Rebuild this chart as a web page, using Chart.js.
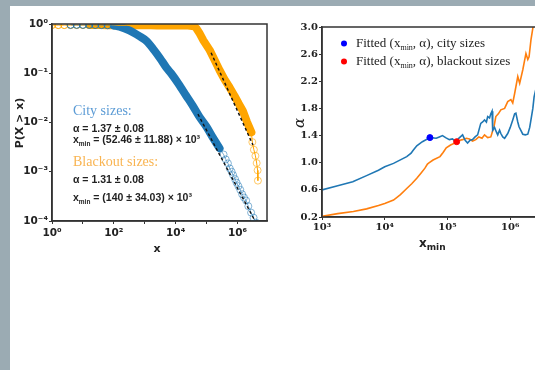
<!DOCTYPE html>
<html>
<head>
<meta charset="utf-8">
<script src="https://cdn.jsdelivr.net/npm/chart.js@4.4.1/dist/chart.umd.min.js"></script>
<style>
html, body { margin: 0; padding: 0; width: 535px; height: 370px; overflow: hidden; background: #9babb3; }
#sheet { position: absolute; left: 10px; top: 6px; width: 525px; height: 364px; background: #fff; }
#ccdf { position: absolute; left: 0; top: 0; }
#alpha { position: absolute; left: 280px; top: 0; }
</style>
</head>
<body>
<div id="sheet"></div>
<canvas id="ccdf" width="280" height="265"></canvas>
<canvas id="alpha" width="320" height="265"></canvas>
<script>
// CCDF of city sizes
const cityX = [4, 6.3, 10, 16, 25, 40, 63, 100, 155, 316, 690, 1150, 2000, 3160, 5000, 7080, 12600, 21900, 35500, 58900, 98000, 158000, 263000,
    355000, 417000, 490000, 562000, 646000, 724000, 832000, 933000, 1070000, 1230000, 1413000, 1622000, 1905000, 2239000, 2754000, 3311000, 3981000];
const cityP = [0.96, 0.96, 0.96, 0.96, 0.955, 0.95, 0.945, 0.93, 0.88, 0.74, 0.56, 0.45, 0.295, 0.2, 0.13, 0.1, 0.06, 0.035, 0.022, 0.013, 0.0083, 0.005, 0.003,
    0.00224, 0.00178, 0.00148, 0.00117, 0.001, 0.00085, 0.00071, 0.0006, 0.00051, 0.00043, 0.00035, 0.0003, 0.00026, 0.0002, 0.000148, 0.000117, 0.000093];

// CCDF of blackout sizes
const blackoutX = [1, 1.6, 2.5, 4, 6.3, 10, 16, 25, 40, 63, 100, 160, 250, 400, 630, 1000, 1600, 2500, 4000, 6300, 10000, 16000, 25000, 40000,
    47900, 58900, 79400, 126000, 178000, 263000, 380000, 550000, 794000, 1100000, 1480000, 2000000, 2820000,
    3020000, 3390000, 3800000, 4170000, 4470000, 4570000];
const blackoutP = [0.95, 0.95, 0.95, 0.95, 0.95, 0.95, 0.95, 0.95, 0.95, 0.94, 0.94, 0.94, 0.94, 0.94, 0.94, 0.94, 0.94, 0.93, 0.93, 0.93, 0.93, 0.93, 0.93, 0.9,
    0.8, 0.65, 0.46, 0.295, 0.19, 0.115, 0.075, 0.052, 0.035, 0.024, 0.0174, 0.0105, 0.0063,
    0.004, 0.0028, 0.0021, 0.0015, 0.00107, 0.00066];

// fitted power laws (dashed)
const cityFitX = [52460, 4470000];
const cityFitP = [0.0148, 0.00008];
const blackoutFitX = [140000, 3160000];
const blackoutFitP = [0.26, 0.0035];

// alpha as a function of xmin
const cityXmin = [1000, 1778, 3090, 5130, 7940, 10000, 13800, 22400, 26300, 28200, 32400, 39800, 52500, 66100, 74100, 83200, 93300,
    107000, 120000, 135000, 151000, 174000, 191000, 209000, 229000, 251000, 275000, 302000, 339000, 363000, 389000, 417000,
    437000, 468000, 490000, 513000, 525000, 562000, 603000, 631000, 676000, 708000, 759000, 813000, 912000, 1000000,
    1096000, 1175000, 1230000, 1318000, 1380000, 1585000, 1738000, 1905000, 2042000, 2138000, 2291000, 2399000, 2818000];
const cityAlpha = [0.60, 0.66, 0.72, 0.81, 0.89, 0.94, 0.99, 1.09, 1.14, 1.18, 1.25, 1.31, 1.37, 1.36, 1.38, 1.40, 1.37,
    1.34, 1.35, 1.31, 1.36, 1.41, 1.33, 1.29, 1.33, 1.34, 1.38, 1.41, 1.58, 1.60, 1.63, 1.60,
    1.68, 1.66, 1.72, 1.76, 1.48, 1.52, 1.45, 1.41, 1.48, 1.43, 1.38, 1.36, 1.43, 1.52,
    1.63, 1.72, 1.73, 1.60, 1.53, 1.42, 1.41, 1.42, 1.52, 1.63, 1.80, 1.97, 2.25];

const blackoutXmin = [1000, 1778, 3162, 5130, 7943, 10000, 13800, 17780, 22390, 26900, 32400, 38000, 43700, 47900, 51300, 58900,
    75900, 85100, 95500, 112000, 138000, 158000, 174000, 200000, 224000, 251000, 282000, 316000, 355000, 389000, 437000,
    490000, 550000, 589000, 646000, 708000, 813000, 912000, 1023000, 1096000, 1175000, 1318000, 1413000, 1585000,
    1778000, 1905000, 1995000, 2138000, 2399000];
const blackoutAlpha = [0.21, 0.25, 0.28, 0.32, 0.37, 0.40, 0.45, 0.53, 0.62, 0.69, 0.77, 0.85, 0.92, 0.98, 1.00, 1.04,
    1.09, 1.15, 1.22, 1.26, 1.30, 1.33, 1.34, 1.36, 1.35, 1.32, 1.34, 1.38, 1.36, 1.41, 1.37,
    1.38, 1.53, 1.68, 1.72, 1.78, 1.80, 1.90, 1.93, 1.88, 2.02, 2.27, 2.17, 2.37,
    2.61, 2.52, 2.56, 2.81, 3.10];

const fittedCity = { xmin: 52460, alpha: 1.37 };
const fittedBlackout = { xmin: 140000, alpha: 1.31 };

// tick values and labels
const ccdfXTicks = [1, 10, 100, 1000, 10000, 100000, 1000000];
const ccdfXLabels = ['10⁰', '', '10²', '', '10⁴', '', '10⁶'];
const ccdfYTicks = [0.0001, 0.001, 0.01, 0.1, 1];
const ccdfYLabels = ['10⁻⁴', '10⁻³', '10⁻²', '10⁻¹', '10⁰'];
const alphaXTicks = [1000, 10000, 100000, 1000000, 10000000];
const alphaXLabels = ['10³', '10⁴', '10⁵', '10⁶', '10⁷'];
const alphaYTicks = [0.2, 0.6, 1.0, 1.4, 1.8, 2.2, 2.6, 3.0];
const alphaYLabels = ['0.2', '0.6', '1.0', '1.4', '1.8', '2.2', '2.6', '3.0'];

const BLUE = '#1f77b4';
const ORANGE = '#ffa500';

function pts(xs, ys) {
    return xs.map((x, i) => ({ x: x, y: ys[i] }));
}

// box round the plot area, like matplotlib
const frame = {
    id: 'frame',
    afterDraw(chart) {
        const { ctx, chartArea: a } = chart;
        ctx.save();
        ctx.strokeStyle = '#333';
        ctx.lineWidth = 1.5;
        ctx.strokeRect(a.left, a.top, a.right - a.left, a.bottom - a.top);
        ctx.restore();
    }
};

// text with a "min" subscript
function subText(ctx, x, y, base, sub, rest, font, subFont) {
    ctx.font = font;
    ctx.fillText(base, x, y);
    x += ctx.measureText(base).width;
    ctx.font = subFont;
    ctx.fillText(sub, x, y + 3);
    x += ctx.measureText(sub).width;
    ctx.font = font;
    ctx.fillText(rest, x, y);
    return x + ctx.measureText(rest).width;
}

const ccdfNotes = {
    id: 'ccdfNotes',
    afterDraw(chart) {
        const ctx = chart.ctx;
        ctx.save();
        ctx.textAlign = 'left';
        ctx.textBaseline = 'alphabetic';
        const big = '14px "Liberation Serif"';
        const small = 'bold 10.5px "Liberation Sans"';
        const tiny = 'bold 6.5px "Liberation Sans"';

        ctx.fillStyle = '#5b9bd5';
        ctx.font = big;
        ctx.fillText('City sizes:', 73, 115);
        ctx.fillStyle = '#222';
        ctx.font = small;
        ctx.fillText('α = 1.37 ± 0.08', 73, 132);
        subText(ctx, 73, 143, 'x', 'min', ' = (52.46 ± 11.88) × 10³', small, tiny);

        ctx.fillStyle = '#f9b451';
        ctx.font = big;
        ctx.fillText('Blackout sizes:', 73, 166);
        ctx.fillStyle = '#222';
        ctx.font = small;
        ctx.fillText('α = 1.31 ± 0.08', 73, 183);
        subText(ctx, 73, 201, 'x', 'min', ' = (140 ± 34.03) × 10³', small, tiny);

        // axis titles
        ctx.font = 'bold 11px "DejaVu Sans"';
        ctx.textAlign = 'center';
        ctx.fillText('x', 157, 252);
        ctx.translate(20, 123);
        ctx.rotate(-Math.PI / 2);
        ctx.textBaseline = 'middle';
        ctx.fillText('P(X > x)', 0, 0);
        ctx.restore();
    }
};

const alphaNotes = {
    id: 'alphaNotes',
    afterDraw(chart) {
        const ctx = chart.ctx;
        ctx.save();
        const rows = [
            { color: '#0000ff', text: ', α), city sizes', y: 47 },
            { color: '#ff0000', text: ', α), blackout sizes', y: 65 }
        ];
        rows.forEach(r => {
            ctx.fillStyle = r.color;
            ctx.beginPath();
            ctx.arc(64, r.y - 3.5, 3, 0, Math.PI * 2);
            ctx.fill();
            ctx.fillStyle = '#222';
            ctx.textAlign = 'left';
            ctx.textBaseline = 'alphabetic';
            subText(ctx, 76, r.y, 'Fitted (x', 'min', r.text, '13px "Liberation Serif"', '8px "Liberation Serif"');
        });

        // axis titles
        ctx.fillStyle = '#222';
        subText(ctx, 139, 247, 'x', 'min', '', 'bold 12px "DejaVu Sans"', 'bold 9px "DejaVu Sans"');
        ctx.translate(20, 123);
        ctx.rotate(-Math.PI / 2);
        ctx.textAlign = 'center';
        ctx.textBaseline = 'middle';
        ctx.font = 'italic 15px "DejaVu Serif"';
        ctx.fillText('α', 0, 0);
        ctx.restore();
    }
};

// circles hidden where the dense band already covers them
const inCityBand = x => x >= 100 && x <= 300000;
const inBlackoutBand = x => x >= 16 && x <= 2820000;

const ccdfChart = new Chart(document.getElementById('ccdf'), {
    type: 'scatter',
    data: {
        datasets: [
            {
                data: pts(cityFitX, cityFitP),
                showLine: true,
                borderColor: '#111',
                borderWidth: 1.4,
                borderDash: [3, 2.5],
                pointRadius: 0
            },
            {
                data: pts(blackoutFitX, blackoutFitP),
                showLine: true,
                borderColor: '#111',
                borderWidth: 1.4,
                borderDash: [3, 2.5],
                pointRadius: 0
            },
            {
                data: pts(cityX, cityP),
                showLine: true,
                borderColor: 'rgba(31,119,180,0.6)',
                borderWidth: 1,
                pointRadius: c => (c.raw && inCityBand(c.raw.x)) ? 0 : 3.5,
                pointBorderWidth: 1,
                pointBackgroundColor: 'rgba(0,0,0,0)',
                pointBorderColor: c => (c.raw && c.raw.x > 300000) ? 'rgba(31,119,180,0.55)' : BLUE
            },
            {
                data: pts(blackoutX, blackoutP),
                showLine: true,
                borderColor: ORANGE,
                borderWidth: 1,
                pointRadius: c => (c.raw && inBlackoutBand(c.raw.x)) ? 0 : 3.5,
                pointBorderWidth: 1,
                pointBackgroundColor: 'rgba(0,0,0,0)',
                pointBorderColor: c => (c.raw && c.raw.x > 2900000) ? 'rgba(255,165,0,0.6)' : ORANGE
            },
            // dense part of the samples shows as a solid band
            {
                data: pts(cityX, cityP).filter(p => inCityBand(p.x)),
                showLine: true,
                borderColor: BLUE,
                borderWidth: 8,
                borderCapStyle: 'round',
                borderJoinStyle: 'round',
                tension: 0.3,
                pointRadius: 0
            },
            {
                data: pts(blackoutX, blackoutP).filter(p => inBlackoutBand(p.x)),
                showLine: true,
                borderColor: ORANGE,
                borderWidth: 8,
                borderCapStyle: 'round',
                borderJoinStyle: 'round',
                pointRadius: 0
            }
        ]
    },
    options: {
        responsive: false,
        animation: false,
        layout: { padding: { top: 24, right: 13, left: 0, bottom: 0 } },
        plugins: {
            legend: { display: false },
            tooltip: { enabled: false }
        },
        scales: {
            x: {
                type: 'logarithmic',
                min: 1,
                max: 9000000,
                afterBuildTicks: s => { s.ticks = ccdfXTicks.map(v => ({ value: v })); },
                afterFit: s => { s.height = 44; },
                ticks: {
                    autoSkip: false,
                    maxRotation: 0,
                    padding: 3,
                    color: '#222',
                    font: { family: 'DejaVu Sans', size: 10.5, weight: 'bold' },
                    callback: (v, i) => ccdfXLabels[i]
                },
                grid: { drawOnChartArea: false, tickLength: 3, color: '#333' },
                border: { color: '#333', width: 1.5 }
            },
            y: {
                type: 'logarithmic',
                min: 0.0001,
                max: 1,
                afterBuildTicks: s => { s.ticks = ccdfYTicks.map(v => ({ value: v })); },
                afterFit: s => { s.width = 52; },
                ticks: {
                    autoSkip: false,
                    padding: 1,
                    color: '#222',
                    font: { family: 'DejaVu Sans', size: 10.5, weight: 'bold' },
                    callback: (v, i) => ccdfYLabels[i]
                },
                grid: { drawOnChartArea: false, tickLength: 3, color: '#333' },
                border: { color: '#333', width: 1.5 }
            }
        }
    },
    plugins: [frame, ccdfNotes]
});

const alphaChart = new Chart(document.getElementById('alpha'), {
    type: 'scatter',
    data: {
        datasets: [
            {
                data: [{ x: fittedCity.xmin, y: fittedCity.alpha }],
                pointRadius: 3,
                pointBackgroundColor: '#0000ff',
                pointBorderColor: '#0000ff'
            },
            {
                data: [{ x: fittedBlackout.xmin, y: fittedBlackout.alpha }],
                pointRadius: 3,
                pointBackgroundColor: '#ff0000',
                pointBorderColor: '#ff0000'
            },
            {
                data: pts(cityXmin, cityAlpha),
                showLine: true,
                borderColor: BLUE,
                borderWidth: 1.6,
                pointRadius: 0
            },
            {
                data: pts(blackoutXmin, blackoutAlpha),
                showLine: true,
                borderColor: '#ff7f0e',
                borderWidth: 1.6,
                pointRadius: 0
            }
        ]
    },
    options: {
        responsive: false,
        animation: false,
        layout: { padding: { top: 27, right: 27, left: 0, bottom: 0 } },
        plugins: {
            legend: { display: false },
            tooltip: { enabled: false }
        },
        scales: {
            x: {
                type: 'logarithmic',
                min: 1000,
                max: 10000000,
                afterBuildTicks: s => { s.ticks = alphaXTicks.map(v => ({ value: v })); },
                afterFit: s => { s.height = 48; },
                ticks: {
                    autoSkip: false,
                    maxRotation: 0,
                    padding: 1,
                    color: '#222',
                    font: { family: 'DejaVu Serif', size: 10, weight: 'bold' },
                    callback: (v, i) => alphaXLabels[i]
                },
                grid: { drawOnChartArea: false, tickLength: 3, color: '#333' },
                border: { color: '#333', width: 1.5 }
            },
            y: {
                min: 0.2,
                max: 3.0,
                afterBuildTicks: s => { s.ticks = alphaYTicks.map(v => ({ value: v })); },
                afterFit: s => { s.width = 42; },
                ticks: {
                    autoSkip: false,
                    padding: 1,
                    color: '#222',
                    font: { family: 'DejaVu Serif', size: 10, weight: 'bold' },
                    callback: (v, i) => alphaYLabels[i]
                },
                grid: { drawOnChartArea: false, tickLength: 3, color: '#333' },
                border: { color: '#333', width: 1.5 }
            }
        }
    },
    plugins: [frame, alphaNotes]
});
</script>
</body>
</html>
